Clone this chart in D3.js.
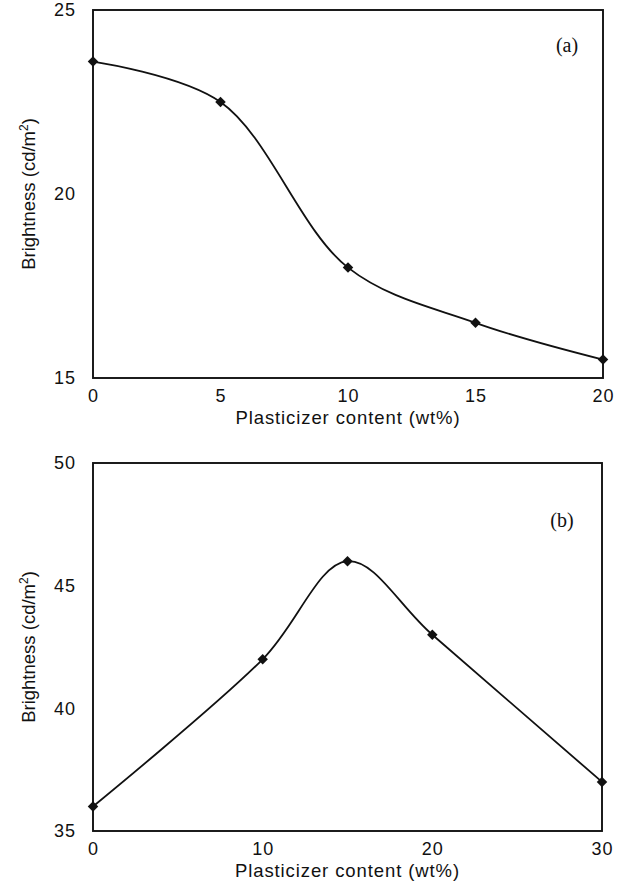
<!DOCTYPE html>
<html>
<head>
<meta charset="utf-8">
<script src="https://cdn.jsdelivr.net/npm/d3@7"></script>
<style>
  body { margin: 0; background: #fff; }
  svg { display: block; }
  .tick text { font-family: "Liberation Sans", Arial, sans-serif; font-size: 18px; letter-spacing: 1px; fill: #111; }
  .title { font-family: "Liberation Sans", Arial, sans-serif; font-size: 18.5px; fill: #111; }
  .tag { font-family: "Liberation Serif", "Times New Roman", serif; font-size: 20px; fill: #111; }
</style>
</head>
<body>
<div id="chart"></div>
<script>
// panel (a)
let contentA = [0, 5, 10, 15, 20];
let brightA = [23.6, 22.5, 18.0, 16.5, 15.5];
let xTicksA = [0, 5, 10, 15, 20];
let yTicksA = [15, 20, 25];

// panel (b)
let contentB = [0, 10, 15, 20, 30];
let brightB = [36, 42, 46, 43, 37];
let xTicksB = [0, 10, 20, 30];
let yTicksB = [35, 40, 45, 50];

let width = 629;
let height = 890;

let svg = d3.select('#chart')
		.append('svg')
		.attr('width', width)
		.attr('height', height);

// draws one boxed panel with its curve and diamond markers
function drawPanel(opts) {
	let g = svg.append('g');

	let xScale = d3.scaleLinear()
			.domain(opts.xDomain)
			.range([opts.left, opts.right]);
	let yScale = d3.scaleLinear()
			.domain(opts.yDomain)
			.range([opts.bottom, opts.top]);

	// tick labels only, no tick marks
	g.append('g')
			.attr('transform', 'translate(0,' + opts.bottom + ')')
			.call(d3.axisBottom(xScale).tickValues(opts.xTicks).tickSize(0).tickPadding(11))
			.call(a => a.select('.domain').remove());

	g.append('g')
			.attr('transform', 'translate(' + opts.left + ',0)')
			.call(d3.axisLeft(yScale).tickValues(opts.yTicks).tickSize(0).tickPadding(17))
			.call(a => a.select('.domain').remove());

	// frame
	g.append('rect')
			.attr('x', opts.left)
			.attr('y', opts.top)
			.attr('width', opts.right - opts.left)
			.attr('height', opts.bottom - opts.top)
			.attr('fill', 'none')
			.attr('stroke', '#111')
			.attr('stroke-width', 1.9);

	let pts = opts.xs.map((x, i) => [x, opts.ys[i]]);

	let line = d3.line()
			.x(d => xScale(d[0]))
			.y(d => yScale(d[1]))
			.curve(d3.curveCatmullRom.alpha(0.5));

	g.append('path')
			.datum(pts)
			.attr('d', line)
			.attr('fill', 'none')
			.attr('stroke', '#111')
			.attr('stroke-width', 1.8);

	g.selectAll('.marker')
			.data(pts)
			.enter()
			.append('path')
			.classed('marker', true)
			.attr('d', d3.symbol().type(d3.symbolSquare).size(55))
			.attr('transform', d => 'translate(' + xScale(d[0]) + ',' + yScale(d[1]) + ') rotate(45)')
			.attr('fill', '#111');

	// axis titles
	g.append('text')
			.classed('title', true)
			.attr('x', (opts.left + opts.right) / 2)
			.attr('y', opts.bottom + 46)
			.attr('text-anchor', 'middle')
			.attr('letter-spacing', '0.9px')
			.text('Plasticizer content (wt%)');

	let yt = g.append('text')
			.classed('title', true)
			.attr('transform', 'translate(35,' + ((opts.top + opts.bottom) / 2) + ') rotate(-90)')
			.attr('text-anchor', 'middle');
	yt.append('tspan').text('Brightness (cd/m');
	yt.append('tspan').attr('dy', -7).attr('font-size', '12px').text('2');
	yt.append('tspan').attr('dy', 7).text(')');

	g.append('text')
			.classed('tag', true)
			.attr('x', opts.tagX)
			.attr('y', opts.tagY)
			.attr('text-anchor', 'middle')
			.text(opts.tag);
}

drawPanel({
	xs: contentA, ys: brightA,
	xDomain: [0, 20], yDomain: [15, 25],
	xTicks: xTicksA, yTicks: yTicksA,
	left: 93, right: 603, top: 10, bottom: 378,
	tag: '(a)', tagX: 567, tagY: 52
});

drawPanel({
	xs: contentB, ys: brightB,
	xDomain: [0, 30], yDomain: [35, 50],
	xTicks: xTicksB, yTicks: yTicksB,
	left: 93, right: 602, top: 463, bottom: 831,
	tag: '(b)', tagX: 562, tagY: 527
});
</script>
</body>
</html>
